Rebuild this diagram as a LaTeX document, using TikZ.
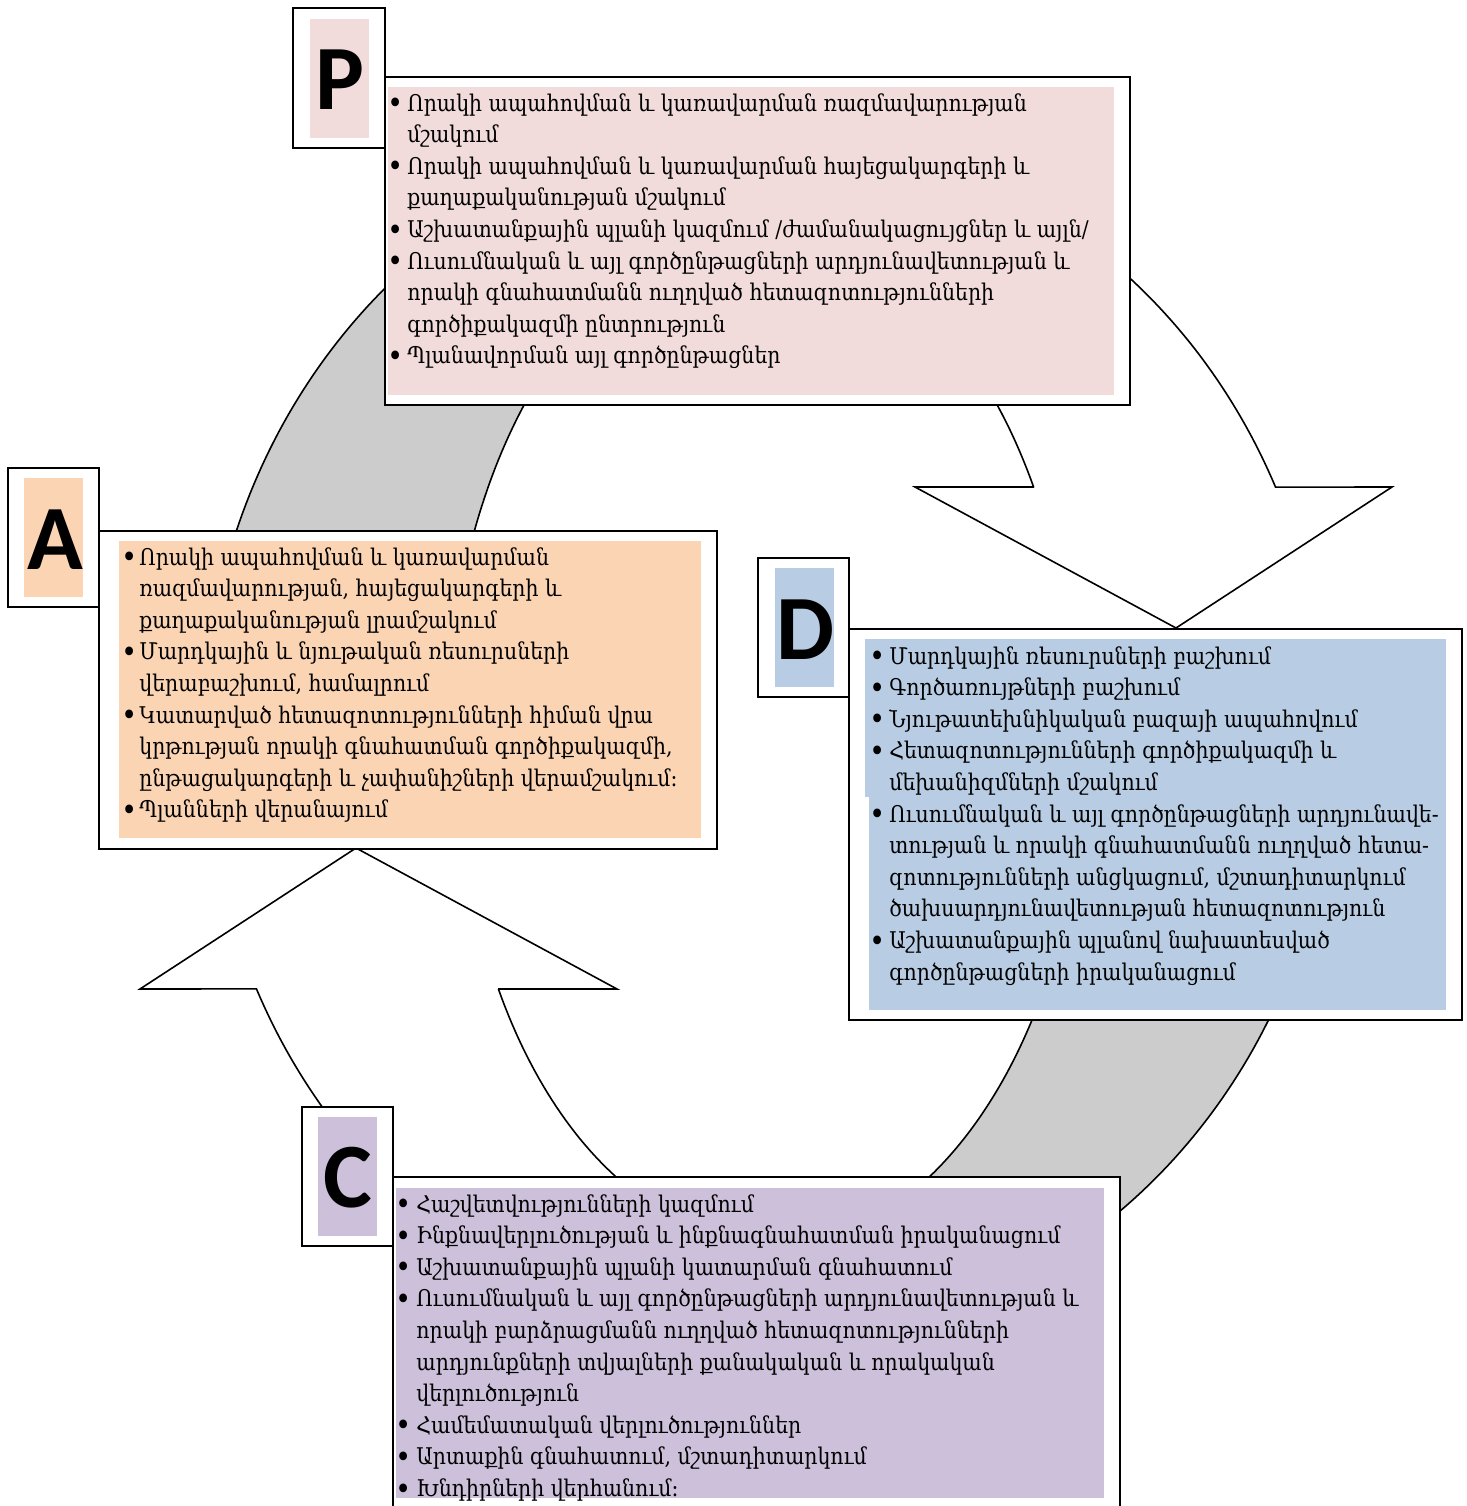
\documentclass[tikz,border=0pt]{standalone}
\usepackage{fontspec}
\setmainfont[FakeStretch=0.89]{DejaVu Serif}
\newfontfamily\lblfont{Carlito}
\definecolor{pfill}{HTML}{F2DCDB}
\definecolor{afill}{HTML}{FBD4B4}
\definecolor{dfill}{HTML}{B8CCE4}
\definecolor{cfill}{HTML}{CCC0DA}
\definecolor{ringgray}{HTML}{CCCCCC}
\newlength\bulw
\newcommand\itemb{\makebox[\bulw][l]{\raisebox{-1.3pt}{\scalebox{1.3}{•}}}}
\newcommand\itemc{\hspace*{\bulw}}
\begin{document}
\begin{tikzpicture}[x=0.5pt,y=-0.5pt,
  frame/.style={draw=black,line width=1pt,fill=white},
  ringpart/.style={draw=black,line width=0.8pt,line join=miter},
  txt/.style={anchor=base west,inner sep=0pt,font=\fontsize{11.5}{15.8}\selectfont},
  letter/.style={font=\lblfont\bfseries\fontsize{46}{46}\selectfont,inner sep=0pt}]
\useasboundingbox (0,0) rectangle (1467,1506);
\fill[white] (0,0) rectangle (1467,1506);

% ring parts
\filldraw[ringpart,fill=ringgray]
  plot[domain=197:233.4,samples=40] ({766+563*cos(\x)},{738+611*sin(\x)})
  -- plot[domain=245:200.4,samples=40] ({766+319*cos(\x)},{738+511*sin(\x)}) -- cycle;
\filldraw[ringpart,fill=ringgray]
  plot[domain=17:53.4,samples=40] ({766+568*cos(\x)},{738+605*sin(\x)})
  -- plot[domain=65:20.4,samples=40] ({766+319*cos(\x)},{738+511*sin(\x)}) -- cycle;
\filldraw[ringpart,fill=white]
  (1034,487) -- (915,487) -- (1176,628) -- (1392,487)
  -- plot[domain=-24.5:-60,samples=40] ({766+560*cos(\x)},{738+605*sin(\x)})
  -- plot[domain=-75:-30,samples=40] ({766+309*cos(\x)},{738+502*sin(\x)}) -- cycle;
\filldraw[ringpart,fill=white]
  (498,989) -- (617,989) -- (356,848) -- (140,989)
  -- plot[domain=155.5:120,samples=40] ({766+560*cos(\x)},{738+605*sin(\x)})
  -- plot[domain=105:150,samples=40] ({766+309*cos(\x)},{738+502*sin(\x)}) -- cycle;

% P
\filldraw[frame] (385,77) rectangle (1130,405);
\fill[pfill] (388,87) rectangle (1114,395);
\filldraw[frame] (293,8) rectangle (385,148);
\fill[pfill] (310,19) rectangle (369,138);
\node[letter] (pl) at (340,80) {P};
\node[txt] (pt) at (387,111) {\setlength\bulw{10pt}\begin{tabular}[t]{@{}l@{}}
\itemb Որակի ապահովման և կառավարման ռազմավարության\\
\itemc մշակում\\
\itemb Որակի ապահովման և կառավարման հայեցակարգերի և\\
\itemc քաղաքականության մշակում\\
\itemb Աշխատանքային պլանի կազմում /ժամանակացույցներ և այլն/\\
\itemb Ուսումնական և այլ գործընթացների արդյունավետության և\\
\itemc որակի գնահատմանն ուղղված հետազոտությունների\\
\itemc գործիքակազմի ընտրություն\\
\itemb Պլանավորման այլ գործընթացներ
\end{tabular}};

% A
\filldraw[frame] (99,531) rectangle (717,849);
\fill[afill] (119,541) rectangle (701,838);
\filldraw[frame] (8,468) rectangle (99,607);
\fill[afill] (24,478) rectangle (83,597);
\node[letter] (al) at (55,540) {A};
\node[txt] (at) at (121,565) {\setlength\bulw{9pt}\begin{tabular}[t]{@{}l@{}}
\itemb Որակի ապահովման և կառավարման\\
\itemc ռազմավարության, հայեցակարգերի և\\
\itemc քաղաքականության լրամշակում\\
\itemb Մարդկային և նյութական ռեսուրսների\\
\itemc վերաբաշխում, համալրում\\
\itemb Կատարված հետազոտությունների հիման վրա\\
\itemc կրթության որակի գնահատման գործիքակազմի,\\
\itemc ընթացակարգերի և չափանիշների վերամշակում:\\
\itemb Պլանների վերանայում
\end{tabular}};

% D
\filldraw[frame] (849,629) rectangle (1462,1020);
\fill[dfill] (865,639) rectangle (1446,797);
\fill[dfill] (869,797) rectangle (1446,1010);
\filldraw[frame] (758,558) rectangle (849,697);
\fill[dfill] (775,568) rectangle (834,687);
\node[letter] (dl) at (805,630) {D};
\node[txt] (dt) at (869,664) {\setlength\bulw{10pt}\begin{tabular}[t]{@{}l@{}}
\itemb Մարդկային ռեսուրսների բաշխում\\
\itemb Գործառույթների բաշխում\\
\itemb Նյութատեխնիկական բազայի ապահովում\\
\itemb Հետազոտությունների գործիքակազմի և\\
\itemc մեխանիզմների մշակում\\
\itemb Ուսումնական և այլ գործընթացների արդյունավե-\\
\itemc տության և որակի գնահատմանն ուղղված հետա-\\
\itemc զոտությունների անցկացում, մշտադիտարկում\\
\itemc ծախսարդյունավետության հետազոտություն\\
\itemb Աշխատանքային պլանով նախատեսված\\
\itemc գործընթացների իրականացում
\end{tabular}};

% C
\filldraw[frame] (393,1177) rectangle (1120,1540);
\fill[cfill] (396,1188) rectangle (1104,1498);
\filldraw[frame] (302,1107) rectangle (393,1246);
\fill[cfill] (318,1117) rectangle (377,1236);
\node[letter] (cl) at (348,1178) {C};
\node[txt] (ct) at (395,1212) {\setlength\bulw{10.5pt}\begin{tabular}[t]{@{}l@{}}
\itemb Հաշվետվությունների կազմում\\
\itemb Ինքնավերլուծության և ինքնագնահատման իրականացում\\
\itemb Աշխատանքային պլանի կատարման գնահատում\\
\itemb Ուսումնական և այլ գործընթացների արդյունավետության և\\
\itemc որակի բարձրացմանն ուղղված հետազոտությունների\\
\itemc արդյունքների տվյալների քանակական և որակական\\
\itemc վերլուծություն\\
\itemb Համեմատական վերլուծություններ\\
\itemb Արտաքին գնահատում, մշտադիտարկում\\
\itemb Խնդիրների վերհանում:
\end{tabular}};
\end{tikzpicture}
\end{document}
